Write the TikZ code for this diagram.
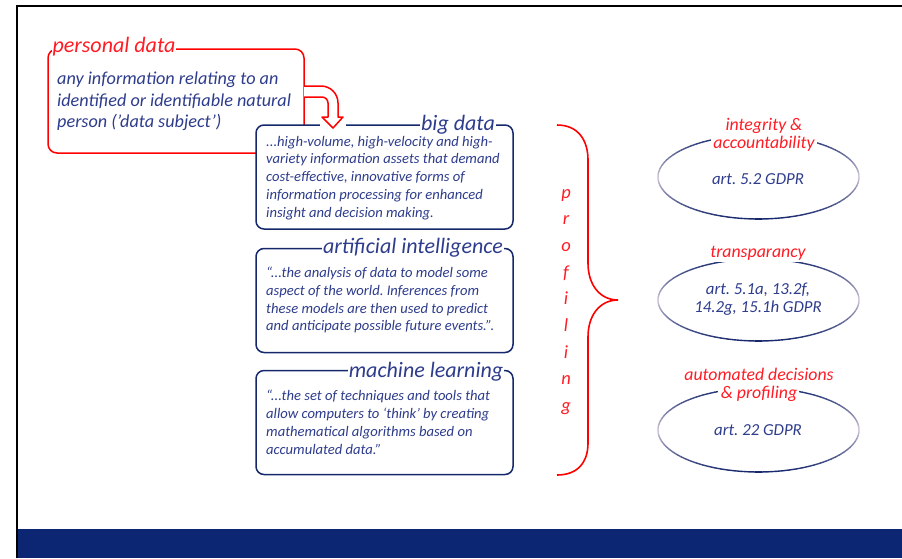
\documentclass[tikz,border=0pt]{standalone}
\usepackage{fontspec}
\setmainfont{Carlito}
\usetikzlibrary{calc}
\definecolor{boxnavy}{RGB}{22,40,108}
\definecolor{txtblue}{RGB}{46,60,140}
\definecolor{bandblue}{RGB}{13,38,115}
\definecolor{pdred}{RGB}{255,0,0}
\definecolor{ttred}{RGB}{255,28,36}
\definecolor{epink}{RGB}{236,222,232}
\frenchspacing
\begin{document}
\begin{tikzpicture}[x=1pt,y=-1pt,
  pdbox/.style={draw=pdred, line width=1.5pt, fill=white, rounded corners=9pt, minimum width=256pt, minimum height=104pt, inner sep=0pt},
  defbox/.style={draw=boxnavy, line width=1.5pt, fill=white, rounded corners=8pt, minimum width=257pt, minimum height=104pt, inner sep=0pt},
  boxtitle/.style={fill=white, inner sep=1pt, text=txtblue, font=\fontsize{22}{24}\selectfont\itshape},
  redtitle/.style={fill=white, inner sep=1pt, text=ttred, font=\fontsize{22}{24}\selectfont\itshape},
  boxbody/.style={anchor=west, align=left, inner sep=0pt, text=txtblue, font=\fontsize{14.6}{17.9}\selectfont\itshape},
  pdbody/.style={anchor=west, align=left, inner sep=0pt, text=txtblue, font=\fontsize{18.2}{21.5}\selectfont\itshape},
  proflet/.style={anchor=base, inner sep=0pt, text=ttred, font=\fontsize{18.5}{20}\selectfont\itshape},
  etitle/.style={align=center, inner sep=0pt, text=ttred, font=\fontsize{17.8}{18.5}\selectfont\itshape},
  ebody/.style={align=center, inner sep=0pt, text=txtblue, font=\fontsize{16.8}{18.5}\selectfont\itshape},
  arrowline/.style={draw=pdred, line width=1.5pt},
  bracestyle/.style={draw=pdred, line width=1.6pt}
]
\useasboundingbox (0,0) rectangle (902,558);
% frame and band
\fill[bandblue] (18,529) rectangle (902,558);
\draw[line width=2pt, black] (17,558) -- (17,6) -- (902,6);

% personal data box
\node[pdbox] (pd) at (176,101) {};
\node[pdbody] (pdtext) at (57,101.5) {any information relating to an\\identified or identifiable natural\\person ('data subject')};
\node[redtitle] (pdtitle) at (114,47) {personal data};

% hollow U-turn arrow (interior)
\fill[white] (304,86) -- (321,86) .. controls (330.4,86) and (338,93.6) .. (338,103) -- (338,117) -- (343,117) -- (333,128) -- (322,117) -- (328,117) -- (328,103) .. controls (328,99.7) and (325.3,97) .. (322,97) -- (304,97) -- cycle;

% big data box
\node[defbox] (bd) at (384.5,177) {};
\node[boxbody] (bdtext) at (266,178) {...high-volume, high-velocity and high-\\variety information assets that demand\\cost-effective, innovative forms of\\information processing for enhanced\\insight and decision making.};
\node[boxtitle] (bdtitle) at (458,125) {big data};

% arrow outline drawn over big data top edge
\fill[white] (320,112) rectangle (346,127);
\draw[arrowline, line join=round] (304,86) -- (321,86) .. controls (330.4,86) and (338,93.6) .. (338,103) -- (338,117) -- (343,117) -- (333,128) -- (322,117) -- (328,117) -- (328,103) .. controls (328,99.7) and (325.3,97) .. (322,97) -- (304,97);

% artificial intelligence box
\node[defbox] (ai) at (384.5,300.5) {};
\node[boxbody] (aitext) at (266,300) {“...the analysis of data to model some\\aspect of the world. Inferences from\\these models are then used to predict\\and anticipate possible future events.”.};
\node[boxtitle] (aititle) at (413,248) {artificial intelligence};

% machine learning box
\node[defbox] (ml) at (384.5,422.5) {};
\node[boxbody] (mltext) at (266,422.5) {“...the set of techniques and tools that\\allow computers to ‘think’ by creating\\mathematical algorithms based on\\accumulated data.”};
\node[boxtitle] (mltitle) at (426,372) {machine learning};

% brace
\draw[bracestyle] (557,125) .. controls (578,125) and (588,140) .. (588,160) -- (588,263) .. controls (588,285) and (600,300) .. (618,300);
\draw[bracestyle] (618,300) .. controls (600,300) and (588,315) .. (588,337) -- (588,443) .. controls (588,462) and (578,475) .. (557,475);

% profiling letters
\foreach \ch [count=\k from 0] in {p,r,o,f,i,l,i,n,g} {
  \node[proflet] (prof\k) at (566,{198+26.7*\k}) {\ch};
}

% ellipses
\node[ebody] (e1) at (758,179) {art. 5.2 GDPR};
\node[ebody] (e2) at (758,299) {art. 5.1a, 13.2f,\\14.2g, 15.1h GDPR};
\node[ebody] (e3) at (758,430) {art. 22 GDPR};
\foreach \cx/\cy/\ry in {758.5/177/42, 758.5/300/41, 758.5/430/42} {
  \foreach \a in {0,4,...,356} {
    \pgfmathtruncatemacro\p{8+92*abs(sin(\a+2))^0.8}
    \draw[draw=boxnavy!\p!epink, line width=1.4pt, line cap=round]
      ({\cx+100.5*cos(\a)},{\cy+\ry*sin(\a)}) -- ({\cx+100.5*cos(\a+4)},{\cy+\ry*sin(\a+4)});
  }
}
% white gaps behind the ellipse titles
\fill[white] (711,133) rectangle (817,153);
\fill[white] (708,244) rectangle (809,262);
\fill[white] (718,385) rectangle (799,404);
\node[etitle] (e1t) at (764,135) {integrity \&\\accountability};
\node[etitle] (e2t) at (758,253) {transparancy};
\node[etitle] (e3t) at (759,385) {automated decisions\\\& profiling};
\end{tikzpicture}
\end{document}
